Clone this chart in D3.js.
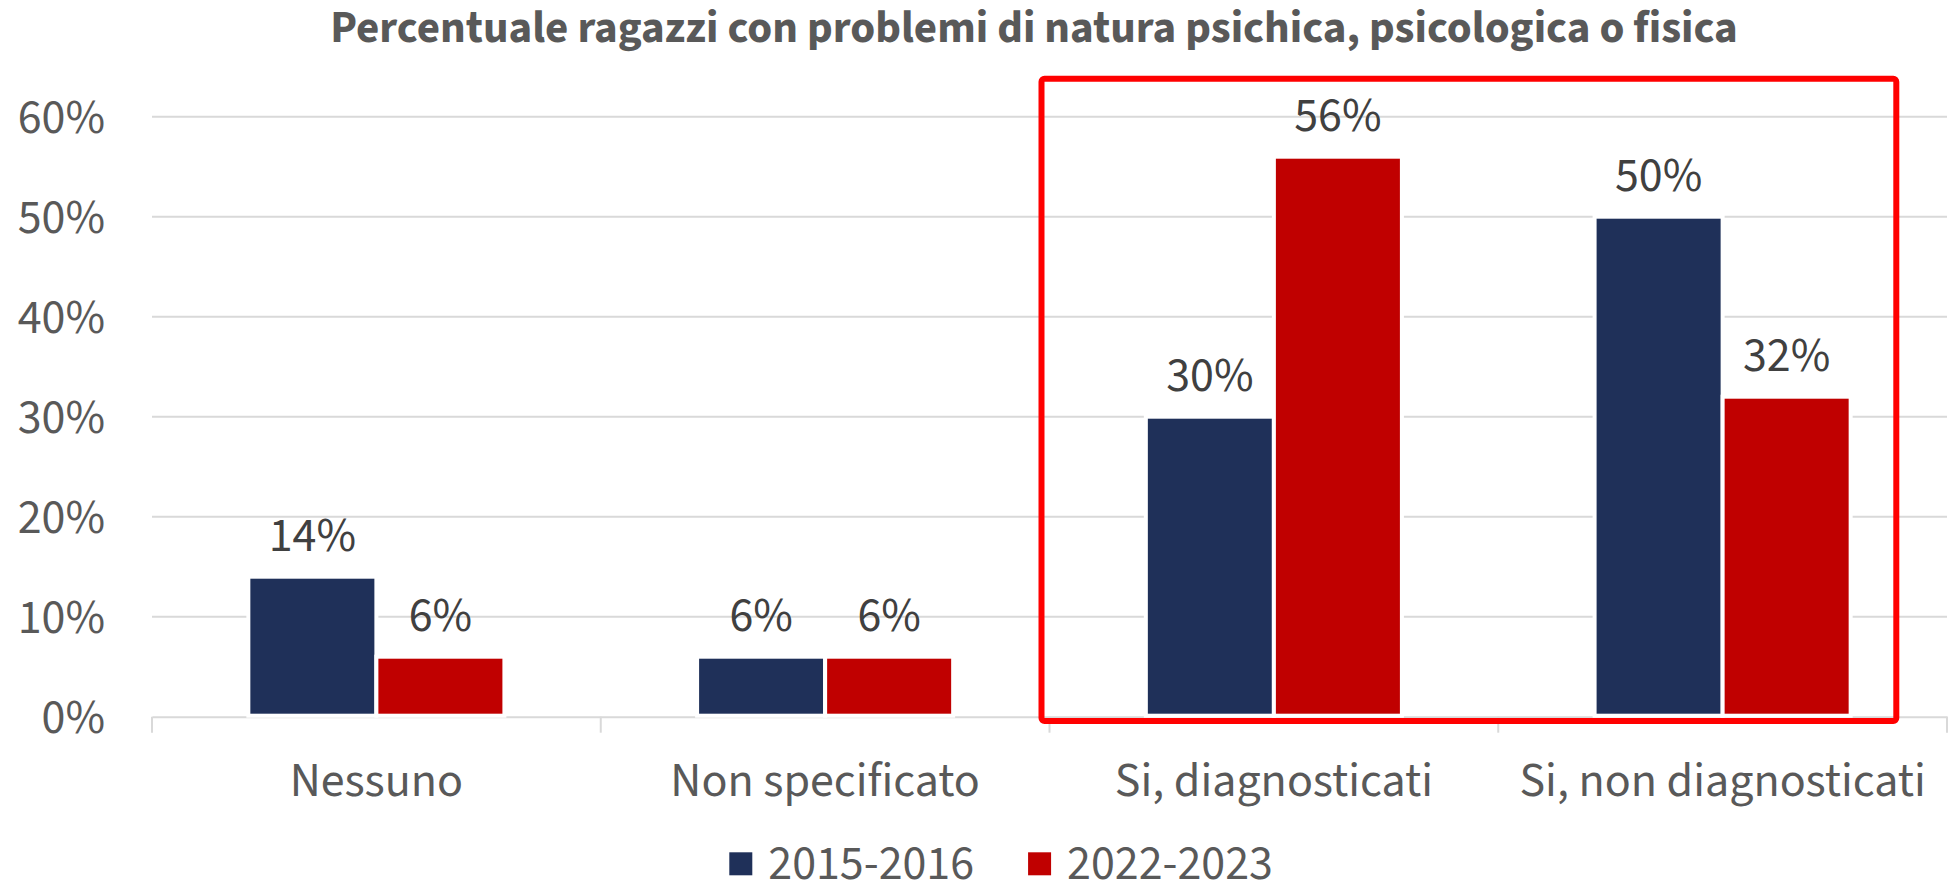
<!DOCTYPE html>
<meta charset='utf-8'>
<style>
html, body {
  margin: 0;
  padding: 0;
  background: #fff;
}
svg text {
  font-family: 'Source Sans Pro', 'Source Sans 3', Lato, 'Liberation Sans', sans-serif;
}
</style>
<body>
<div id='chart'></div>
<script src='https://cdn.jsdelivr.net/npm/d3@7/dist/d3.min.js'></script>
<script>

var categories = ['Nessuno', 'Non specificato', 'Si, diagnosticati', 'Si, non diagnosticati'];
var seriesNames = ['2015-2016', '2022-2023'];
var values2015 = [0.14, 0.06, 0.30, 0.50];
var values2022 = [0.06, 0.06, 0.56, 0.32];
var yTicks = [0, 0.1, 0.2, 0.3, 0.4, 0.5, 0.6];
var highlighted = ['Si, diagnosticati', 'Si, non diagnosticati'];
var title = 'Percentuale ragazzi con problemi di natura psichica, psicologica o fisica';

var W = 1949, H = 881;
var colors = ['#1F3059', '#C00000'];
var grid = '#d9d9d9';
var fs = '48px';

var svg = d3.select('#chart').append('svg')
    .attr('width', W)
    .attr('height', H);

var x = d3.scaleBand().domain(categories).range([152, 1947]);
var y = d3.scaleLinear().domain([0, 0.6]).range([716.7, 116.7]);
var fmt = d3.format('.0%');

// title
svg.append('text')
  .attr('x', 1034)
  .attr('y', 41.7)
  .attr('text-anchor', 'middle')
  .style('font-size', '45px')
  .style('font-weight', 'bold')
  .style('fill', '#595959')
  .text(title);

// gridlines
svg.append('g').selectAll('line')
  .data(yTicks.filter(function(d){ return d > 0; }))
  .enter().append('line')
  .attr('x1', x.range()[0])
  .attr('x2', x.range()[1])
  .attr('y1', function(d){ return y(d); })
  .attr('y2', function(d){ return y(d); })
  .style('stroke', grid)
  .style('stroke-width', 2);

// y tick labels
svg.append('g').selectAll('text')
  .data(yTicks)
  .enter().append('text')
  .attr('x', 105)
  .attr('y', function(d){ return y(d) + 16; })
  .attr('text-anchor', 'end')
  .style('font-size', fs)
  .style('fill', '#595959')
  .text(fmt);

// x axis
var xAxis = d3.axisBottom(x).tickSize(0).tickFormat('');
var gx = svg.append('g').attr('transform', 'translate(0,' + y(0) + ')').call(xAxis);
gx.select('.domain').style('stroke', grid).style('stroke-width', 2);

var bounds = categories.map(function(c){ return x(c); }).concat([x.range()[1]]);
svg.append('g').selectAll('line')
  .data(bounds)
  .enter().append('line')
  .attr('x1', function(d){ return d; })
  .attr('x2', function(d){ return d; })
  .attr('y1', y(0))
  .attr('y2', y(0) + 16)
  .style('stroke', grid)
  .style('stroke-width', 2);

svg.append('g').selectAll('text')
  .data(categories)
  .enter().append('text')
  .attr('x', function(d){ return x(d) + x.bandwidth() / 2; })
  .attr('y', 795.7)
  .attr('text-anchor', 'middle')
  .style('font-size', fs)
  .style('fill', '#595959')
  .text(function(d){ return d; });

// bars
var barW = x.bandwidth() * 0.2853;
var rows = [];
categories.forEach(function(c, i) {
  rows.push({cat: c, s: 0, v: values2015[i]});
  rows.push({cat: c, s: 1, v: values2022[i]});
});

function barX(d) {
  var c = x(d.cat) + x.bandwidth() / 2;
  return d.s === 0 ? c - barW : c;
}

svg.append('g').selectAll('rect')
  .data(rows)
  .enter().append('rect')
  .attr('x', barX)
  .attr('y', function(d){ return y(d.v); })
  .attr('width', barW)
  .attr('height', function(d){ return y(0) - y(d.v) - 1; })
  .style('fill', function(d){ return colors[d.s]; })
  .style('stroke', '#fff')
  .style('stroke-width', 4);

svg.append('g').selectAll('text')
  .data(rows)
  .enter().append('text')
  .attr('x', function(d){ return barX(d) + barW / 2; })
  .attr('y', function(d){ return y(d.v) - 25.5; })
  .attr('text-anchor', 'middle')
  .style('font-size', fs)
  .style('fill', '#404040')
  .text(function(d){ return fmt(d.v); });

// highlight box
var hx0 = x(highlighted[0]) - 8;
var hx1 = x(highlighted[highlighted.length - 1]) + x.bandwidth() - 50.7;
svg.append('rect')
  .attr('x', hx0)
  .attr('y', y(0.6) - 38)
  .attr('width', hx1 - hx0)
  .attr('height', y(0) - y(0.6) + 42.3)
  .attr('rx', 3)
  .style('fill', 'none')
  .style('stroke', '#FF0000')
  .style('stroke-width', 6);

// legend
var legend = svg.append('g');
var lx = 729.3;
seriesNames.forEach(function(s, i) {
  legend.append('rect')
    .attr('x', lx)
    .attr('y', 852.3)
    .attr('width', 23)
    .attr('height', 23)
    .style('fill', colors[i]);
  var t = legend.append('text')
    .attr('x', lx + 39)
    .attr('y', 879)
    .style('font-size', fs)
    .style('fill', '#595959')
    .text(s);
  lx += 39 + t.node().getComputedTextLength() + 54;
});

</script>
